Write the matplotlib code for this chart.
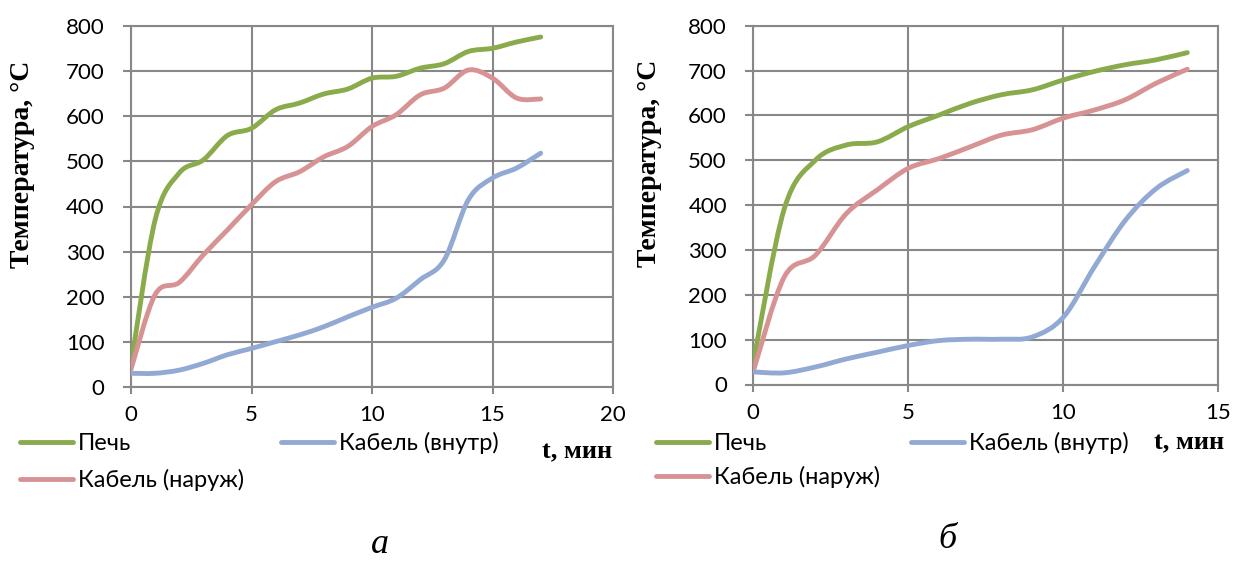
import matplotlib
matplotlib.use("Agg")
import matplotlib.pyplot as plt
import numpy as np
from matplotlib.path import Path
from matplotlib.patches import PathPatch
from matplotlib.lines import Line2D

# ---------------- data ----------------
t_a = [0, 1, 2, 3, 4, 5, 6, 7, 8, 9, 10, 11, 12, 13, 14, 15, 16, 17]
pech_a = [50, 370, 474, 503, 557, 573, 614, 629, 649, 660, 684, 688, 706, 716, 743, 750, 764, 775]
nar_a = [40, 205, 232, 293, 348, 404, 455, 477, 510, 533, 577, 603, 647, 662, 702, 684, 640, 638]
vn_a = [31, 31, 38, 53, 72, 86, 101, 116, 134, 156, 177, 197, 238, 282, 415, 463, 485, 518]

t_b = [0, 1, 2, 3, 4, 5, 6, 7, 8, 9, 10, 11, 12, 13, 14]
pech_b = [50, 392, 500, 534, 541, 575, 601, 627, 646, 657, 679, 698, 713, 724, 740]
nar_b = [30, 240, 288, 381, 434, 482, 504, 530, 556, 568, 594, 612, 635, 672, 703]
vn_b = [28, 26, 39, 57, 72, 87, 98, 101, 101, 106, 150, 262, 366, 437, 477]

labels = ["Печь", "Кабель (наруж)", "Кабель (внутр)"]
captions = ["а", "б"]
xlabel = "t, мин"
ylabel = "Температура, °С"

col_pech = "#8AAB4B"
col_nar = "#D79394"
col_vn = "#92AAD3"
grid_col = "#888888"

W, H = 1237, 561
fig = plt.figure(figsize=(W / 100, H / 100), dpi=100)


def smooth_path(x, y):
    """Excel-like smoothed line: Catmull-Rom as cubic Bezier segments."""
    P = np.column_stack([x, y]).astype(float)
    n = len(P)
    verts = [P[0]]
    codes = [Path.MOVETO]
    for i in range(n - 1):
        p0 = P[i - 1] if i > 0 else P[i]
        p1 = P[i]
        p2 = P[i + 1]
        p3 = P[i + 2] if i + 2 < n else P[i + 1]
        c1 = p1 + (p2 - p0) / 6.0
        c2 = p2 - (p3 - p1) / 6.0
        verts += [c1, c2, p2]
        codes += [Path.CURVE4] * 3
    return Path(verts, codes)


def draw(ax, x, ys, xmax):
    for y, c in zip(ys, [col_pech, col_nar, col_vn]):
        patch = PathPatch(smooth_path(x, y), facecolor="none", edgecolor=c,
                          lw=3.5, capstyle="round", joinstyle="round", zorder=3)
        ax.add_patch(patch)
    ax.set_xlim(0, xmax)
    ax.set_ylim(0, 800)
    ax.set_xticks(np.arange(0, xmax + 1, 5))
    ax.set_yticks(np.arange(0, 801, 100))
    ax.grid(True, color=grid_col, lw=1.5)
    ax.set_axisbelow(True)
    for s in ax.spines.values():
        s.set_color(grid_col)
        s.set_linewidth(1.5)
    ax.tick_params(axis="y", direction="out", length=6, width=1.5, color=grid_col,
                   pad=13, labelsize=16)
    ax.tick_params(axis="x", direction="out", length=5, width=1.5, color=grid_col,
                   pad=8, labelsize=16)
    for lab in ax.get_xticklabels() + ax.get_yticklabels():
        lab.set_fontfamily("Lato")


ax1 = fig.add_axes([131 / W, 1 - 387.3 / H, 482 / W, 361.6 / H])
draw(ax1, t_a, [pech_a, nar_a, vn_a], 20)
ax2 = fig.add_axes([753.3 / W, 1 - 384.5 / H, 465 / W, 358.8 / H])
draw(ax2, t_b, [pech_b, nar_b, vn_b], 15)

for ax, (lx, ly), (yx, yy) in [(ax1, (0.926, -0.179), (-0.226, 0.617)),
                               (ax2, (0.937, -0.163), (-0.223, 0.617))]:
    ax.set_xlabel(xlabel, fontfamily="Liberation Serif", fontweight="bold",
                  fontsize=19, va="center", ha="center")
    ax.xaxis.set_label_coords(lx, ly)
    ax.set_ylabel(ylabel, fontfamily="Liberation Serif", fontweight="bold",
                  fontsize=20, va="center", ha="center")
    ax.yaxis.set_label_coords(yx, yy)

handles = [Line2D([], [], color=c, lw=3.5, solid_capstyle="round")
           for c in [col_pech, col_nar, col_vn]]

for (x0, ytop, cs, ls) in [(20, 432, 1.57, 0.62), (656, 432, 1.31, 0.5)]:
    fig.legend(handles, labels, loc="upper left", bbox_to_anchor=(x0 / W, 1 - ytop / H),
               ncol=2, frameon=False, borderpad=0, borderaxespad=0,
               handlelength=2.25, handletextpad=0.21, columnspacing=cs,
               labelspacing=ls, prop={"family": "Lato", "size": 17})

fig.text(380 / W, 1 - 553 / H, captions[0], fontfamily="Liberation Serif",
         fontstyle="italic", fontsize=26, ha="center", va="baseline")
fig.text(947 / W, 1 - 548 / H, captions[1], fontfamily="Liberation Serif",
         fontstyle="italic", fontsize=26, ha="center", va="baseline")

fig.savefig("out.png", dpi=100)
